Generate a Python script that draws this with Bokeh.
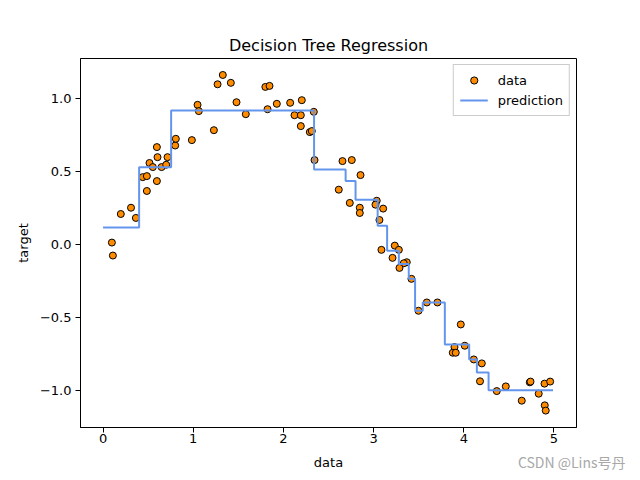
from bokeh.plotting import figure
from bokeh.models import Range1d, FixedTicker, Legend, LegendItem, Title
from bokeh.embed import file_html
from bokeh.resources import INLINE

# ---- data ----
x_data = [0.098, 0.109, 0.197, 0.310, 0.364, 0.440, 0.486, 0.486, 0.515, 0.552,
          0.597, 0.604, 0.597, 0.649, 0.700, 0.715, 0.800, 0.807, 0.985, 1.048,
          1.062, 1.229, 1.270, 1.328, 1.417, 1.480, 1.583, 1.800, 1.846, 1.824,
          1.927, 2.075, 2.204, 2.123, 2.193, 2.193, 2.293, 2.315, 2.337, 2.345,
          2.655, 2.758, 2.855, 2.614, 2.736, 2.847, 2.847, 3.035, 3.021, 3.106,
          3.065, 3.087, 3.235, 3.280, 3.210, 3.368, 3.335, 3.287, 3.420, 3.498,
          3.590, 3.708, 3.967, 3.897, 4.011, 3.878, 3.911, 4.111, 4.200, 4.180,
          4.366, 4.466, 4.643, 4.732, 4.740, 4.895, 4.958, 4.831, 4.898, 4.909]
y_data = [0.014, -0.075, 0.210, 0.253, 0.183, 0.463, 0.470, 0.368, 0.560, 0.532,
          0.669, 0.600, 0.436, 0.532, 0.548, 0.600, 0.680, 0.726, 0.717, 0.959,
          0.916, 0.785, 1.100, 1.164, 1.110, 0.977, 0.895, 1.082, 1.089, 0.929,
          0.966, 0.973, 0.991, 0.888, 0.888, 0.813, 0.772, 0.779, 0.911, 0.580,
          0.573, 0.580, 0.477, 0.377, 0.286, 0.253, 0.217, 0.301, 0.274, 0.247,
          0.169, -0.036, -0.007, -0.036, -0.091, -0.121, -0.128, -0.160, -0.235, -0.454,
          -0.397, -0.397, -0.548, -0.703, -0.694, -0.742, -0.742, -0.788, -0.815, -0.938,
          -1.005, -0.973, -1.071, -0.945, -0.940, -0.954, -0.940, -1.023, -1.103, -1.139]

# prediction: step edges and levels
step_edges = [0.0, 0.40, 0.755, 2.34, 2.69, 2.80, 3.045, 3.15, 3.28, 3.39,
              3.46, 3.545, 3.79, 4.06, 4.145, 4.275, 4.99]
step_levels = [0.118, 0.530, 0.920, 0.516, 0.436, 0.308, 0.130, -0.042, -0.133, -0.235,
               -0.454, -0.397, -0.686, -0.788, -0.877, -1.000]

x_ticks = [0, 1, 2, 3, 4, 5]
x_tick_labels = ["0", "1", "2", "3", "4", "5"]
y_ticks = [-1.0, -0.5, 0.0, 0.5, 1.0]
y_tick_labels = ["\u22121.0", "\u22120.5", "0.0", "0.5", "1.0"]

FONT = "DejaVu Sans"

p = figure(frame_width=496, frame_height=369,
           x_range=Range1d(-0.25, 5.25), y_range=Range1d(-1.255, 1.277),
           output_backend="svg", toolbar_location=None,
           title="Decision Tree Regression",
           min_border_left=80, min_border_right=52, min_border_top=58, min_border_bottom=46)

p.title.text_font = FONT
p.title.text_font_size = "16px"
p.title.text_font_style = "normal"
p.title.text_color = "black"
p.title.align = "center"
p.title.standoff = 8

p.xgrid.visible = False
p.ygrid.visible = False
p.outline_line_color = "black"
p.outline_line_width = 1
p.outline_line_alpha = 1.0

for ax, ticks, labels in ((p.xaxis[0], x_ticks, x_tick_labels), (p.yaxis[0], y_ticks, y_tick_labels)):
    ax.ticker = FixedTicker(ticks=ticks)
    ax.major_label_overrides = {t: l for t, l in zip(ticks, labels)}
    ax.minor_tick_line_color = None
    ax.major_tick_in = 0
    ax.major_tick_out = 5
    ax.major_tick_line_color = "black"
    ax.axis_line_color = "black"
    ax.major_label_text_font = FONT
    ax.major_label_text_font_size = "13px"
    ax.major_label_text_color = "black"
    ax.axis_label_text_font = FONT
    ax.axis_label_text_font_size = "13px"
    ax.axis_label_text_font_style = "normal"
    ax.axis_label_text_color = "black"

p.xaxis[0].major_label_standoff = 1
p.xaxis[0].axis_label_standoff = 9
p.yaxis[0].major_label_standoff = 4
p.yaxis[0].axis_label_standoff = 6

p.xaxis.axis_label = "data"
p.yaxis.axis_label = "target"

# prediction step line
sx = []
sy = []
for i, lvl in enumerate(step_levels):
    sx += [step_edges[i], step_edges[i + 1]]
    sy += [lvl, lvl]

sc = p.scatter(x_data, y_data, size=7, marker="circle",
               fill_color="#ff8c00", line_color="black", line_width=1)
ln = p.line(sx, sy, line_color="#6495ed", line_width=2)

legend = Legend(items=[LegendItem(label="data", renderers=[sc]),
                       LegendItem(label="prediction", renderers=[ln])],
                location="top_right")
legend.label_text_font = FONT
legend.label_text_font_size = "13px"
legend.label_text_color = "black"
legend.margin = 6
legend.padding = 6
legend.spacing = 2
legend.glyph_width = 28
legend.glyph_height = 18
legend.label_standoff = 10
legend.border_line_color = "#cccccc"
legend.border_line_alpha = 1.0
legend.background_fill_alpha = 0.8
p.add_layout(legend)

wm = Title(text="CSDN @Lins号丹", align="right", offset=-49, standoff=-42,
           vertical_align="top",
           text_font="Noto Sans CJK SC", text_font_size="14px",
           text_font_style="normal", text_color="#a8a8a8")
p.add_layout(wm, "below")

open("out.html", "w").write(file_html(p, INLINE))
